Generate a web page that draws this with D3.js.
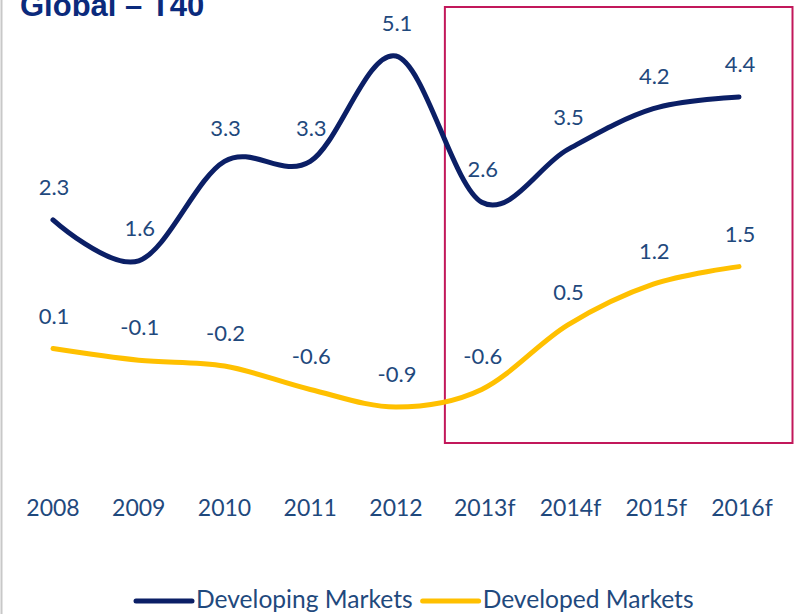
<!DOCTYPE html>
<html>
<head>
<meta charset="utf-8">
<script src="https://cdn.jsdelivr.net/npm/d3@7/dist/d3.min.js"></script>
<style>
  html, body { margin: 0; padding: 0; background: #fff; }
  svg { display: block; }
</style>
</head>
<body>
<svg id="chart" width="794" height="614"></svg>
<script>
// ---- data ----
const categories = ["2008", "2009", "2010", "2011", "2012", "2013f", "2014f", "2015f", "2016f"];
const developing = [2.3, 1.6, 3.3, 3.3, 5.1, 2.6, 3.5, 4.2, 4.4];
const developed  = [0.1, -0.1, -0.2, -0.6, -0.9, -0.6, 0.5, 1.2, 1.5];
const seriesNames = ["Developing Markets", "Developed Markets"];
const title = "Global – T40";
const forecastStart = "2013f";

// ---- setup ----
const W = 794, H = 614;
const svg = d3.select("#chart");
const navy = "#0b1f66", gold = "#ffc000", textBlue = "#1f497d";
const font = "Lato, 'Noto Sans', sans-serif";
const fmt = d3.formatLocale({ decimal: ".", thousands: ",", grouping: [3], currency: ["", ""], minus: "-" }).format(".1f");

const x = d3.scalePoint().domain(categories).range([53, 739]);
const y = d3.scaleLinear().domain([-1.5, 6]).range([442.1, 3.4]);

// left border
svg.append("line").attr("x1", 1.5).attr("x2", 1.5).attr("y1", 0).attr("y2", H)
  .attr("stroke", "#c8c8c8").attr("stroke-width", 2);

// forecast highlight box
const step = x.step();
const boxLeft = x(forecastStart) - 0.43 * step;
svg.append("rect")
  .attr("x", boxLeft)
  .attr("y", 7)
  .attr("width", 792.5 - boxLeft)
  .attr("height", 436)
  .attr("fill", "none")
  .attr("stroke", "#c2185b")
  .attr("stroke-width", 2);

// title
svg.append("text").attr("x", 20).attr("y", 16)
  .attr("font-family", "'Liberation Sans', Arial, sans-serif")
  .attr("font-weight", "bold").attr("font-size", 31)
  .attr("fill", "#0b2a7c").text(title);

// lines
const line = d3.line()
  .x((d, i) => x(categories[i]))
  .y(d => y(d))
  .curve(d3.curveCardinal.tension(0));

const series = [
  { name: seriesNames[1], values: developed, color: gold },
  { name: seriesNames[0], values: developing, color: navy }
];

series.forEach(s => {
  svg.append("path").datum(s.values)
    .attr("d", line)
    .attr("fill", "none")
    .attr("stroke", s.color)
    .attr("stroke-width", 5)
    .attr("stroke-linecap", "round")
    .attr("stroke-linejoin", "round");

  svg.append("g").selectAll("text").data(s.values).join("text")
    .attr("x", (d, i) => x(categories[i]) + 1)
    .attr("y", d => y(d) - 25)
    .attr("text-anchor", "middle")
    .attr("font-family", font)
    .attr("font-size", 22)
    .attr("fill", textBlue)
    .text(d => fmt(d));
});

// x-axis labels (no axis line)
svg.append("g").selectAll("text").data(categories).join("text")
  .attr("x", d => x(d) + (d.endsWith("f") ? 3 : 0))
  .attr("y", 516)
  .attr("text-anchor", "middle")
  .attr("font-family", font)
  .attr("font-size", 23)
  .attr("fill", textBlue)
  .text(d => d);

// legend
const legendItems = [
  { name: seriesNames[0], color: navy },
  { name: seriesNames[1], color: gold }
];
let lx = 136;
const ly = 601;
legendItems.forEach(item => {
  svg.append("line").attr("x1", lx).attr("x2", lx + 56)
    .attr("y1", ly).attr("y2", ly)
    .attr("stroke", item.color).attr("stroke-width", 5)
    .attr("stroke-linecap", "round");
  const t = svg.append("text").attr("x", lx + 60).attr("y", 608)
    .attr("font-family", font).attr("font-size", 24.6)
    .attr("fill", textBlue).text(item.name);
  lx = lx + 60 + t.node().getComputedTextLength() + 10;
});
</script>
</body>
</html>
